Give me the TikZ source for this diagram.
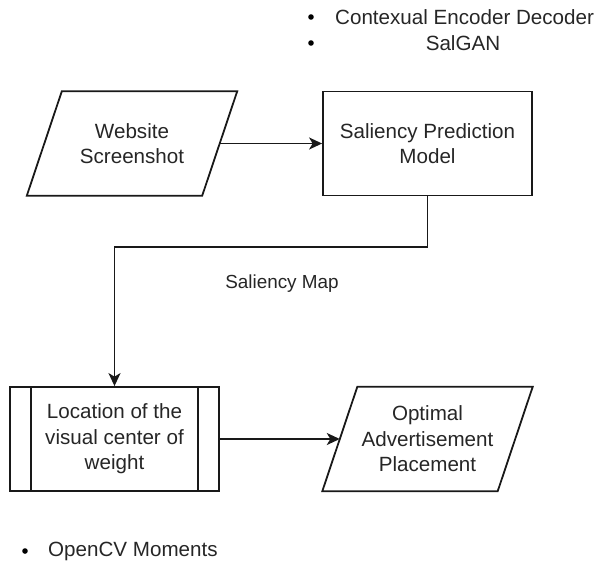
\documentclass[tikz,border=0pt]{standalone}
\usepackage{fontspec}
\setmainfont{Liberation Sans}
\usetikzlibrary{arrows.meta,calc}
\begin{document}
\begin{tikzpicture}[x=1pt,y=-1pt,
  txt/.style={text=black!85,font=\fontsize{20.6}{25.5}\selectfont,align=center,inner sep=0pt},
  lbl/.style={text=black!85,font=\fontsize{18.9}{22}\selectfont,inner sep=0pt},
  boxn/.style={txt,draw=black!90,line width=1.8pt,minimum width=209pt,minimum height=104pt},
  paran/.style={txt,minimum width=175pt,minimum height=104pt},
  pline/.style={draw=black!90,line width=1.8pt,line join=miter},
  conn/.style={draw=black!90,line width=1.8pt,-{Stealth[length=13pt,width=12pt,inset=3.5pt]}},
  dot/.style={fill=black,draw=none}
]
\useasboundingbox (0,0) rectangle (597,566);
% nodes
\node[paran] (ws) at (132,143.5) {Website\\Screenshot};
\draw[pline] ($(ws.north west)+(17.5,0)$) -- ($(ws.north east)+(17.5,0)$) -- ($(ws.south east)+(-17.5,0)$) -- ($(ws.south west)+(-17.5,0)$) -- cycle;
\node[boxn] (spm) at (427.5,143.5) {Saliency Prediction\\Model};
\node[boxn] (loc) at (114.5,439) {Location of the\\visual center of\\weight};
\draw[pline] ($(loc.north west)+(22,0)$) -- ($(loc.south west)+(22,0)$);
\draw[pline] ($(loc.north east)+(-22,0)$) -- ($(loc.south east)+(-22,0)$);
\node[paran] (opt) at (427.5,439) {Optimal\\Advertisement\\Placement};
\draw[pline] ($(opt.north west)+(17.5,0)$) -- ($(opt.north east)+(17.5,0)$) -- ($(opt.south east)+(-17.5,0)$) -- ($(opt.south west)+(-17.5,0)$) -- cycle;
% connectors
\draw[conn] (ws.east) -- (spm.west);
\coordinate (bend) at (0,247);
\draw[conn] (spm.south) |- (bend -| loc.north) -- (loc.north);
\node[lbl] (smap) at (282,284) {Saliency Map};
\draw[conn] (loc.east) -- (opt.west);
% bullets
\fill[dot] (311,17) circle (2.8);
\node[lbl,font=\fontsize{20.6}{25}\selectfont,anchor=west] (b1) at (335,17) {Contexual Encoder Decoder};
\fill[dot] (311,43) circle (2.8);
\node[lbl,font=\fontsize{20.6}{25}\selectfont] (b2) at (463,43) {SalGAN};
\fill[dot] (25,551) circle (2.8);
\node[lbl,font=\fontsize{20.6}{25}\selectfont,anchor=west] (b3) at (48,551) {OpenCV Moments};
\end{tikzpicture}
\end{document}
